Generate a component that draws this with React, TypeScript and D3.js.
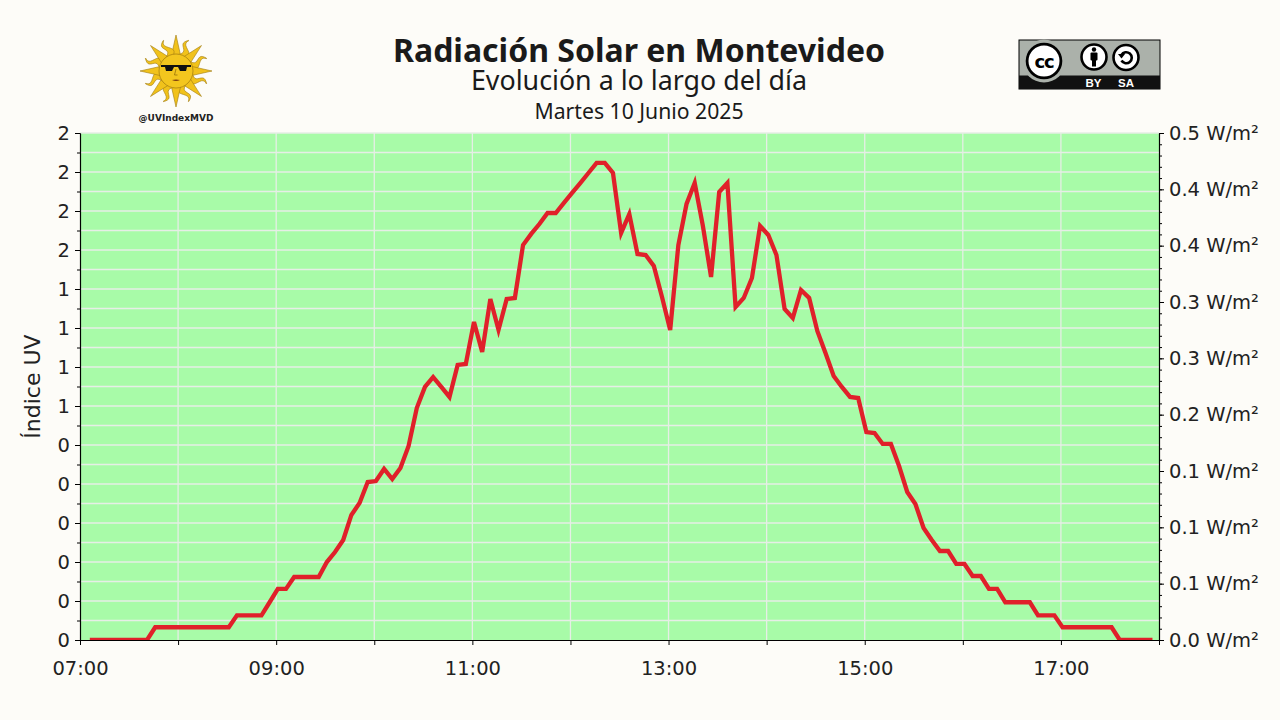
import React, { useEffect, useRef } from 'react';
import * as d3 from 'd3';

// 5 minute readings (W/m²), first one at 07:06
const firstReading = new Date(2025, 5, 10, 7, 6);
const stepMinutes = 5;
const radiation = [
  0, 0, 0, 0, 0, 0, 0, 0,
  0.0113, 0.0113, 0.0113, 0.0113, 0.0113, 0.0113, 0.0113, 0.0113, 0.0113, 0.0113,
  0.0219, 0.0219, 0.0219, 0.0219, 0.0335, 0.0453, 0.0453,
  0.0559, 0.0559, 0.0559, 0.0559, 0.0692, 0.0781, 0.0888, 0.111, 0.1216,
  0.1402, 0.1411, 0.1518, 0.1429, 0.1527, 0.1722, 0.2059, 0.2246, 0.2334,
  0.2246, 0.2157, 0.2441, 0.245, 0.2823, 0.2556, 0.3027, 0.2752, 0.3027,
  0.3036, 0.3506, 0.3604, 0.3692, 0.379, 0.379, 0.3879, 0.3968, 0.4056,
  0.4145, 0.4234, 0.4234, 0.4145, 0.3613, 0.3781, 0.3426, 0.3417, 0.332,
  0.3044, 0.2752, 0.3506, 0.387, 0.4056, 0.3675, 0.3222, 0.3976, 0.4056,
  0.2956, 0.3036, 0.3213, 0.3675, 0.3595, 0.3417, 0.2938, 0.2858, 0.3107,
  0.3036, 0.2743, 0.2547, 0.2343, 0.2246, 0.2157, 0.2148, 0.1846, 0.1837,
  0.174, 0.174, 0.1544, 0.1314, 0.1207, 0.0994, 0.0888, 0.079, 0.079,
  0.0675, 0.0675, 0.0568, 0.0568, 0.0453, 0.0453,
  0.0335, 0.0335, 0.0335, 0.0335, 0.0219, 0.0219, 0.0219,
  0.0113, 0.0113, 0.0113, 0.0113, 0.0113, 0.0113, 0.0113,
  0, 0, 0, 0, 0,
];

// left axis (UV index)
const uvTicks = d3.range(14).map((k) => k * 0.2);
const uvMinorTicks = d3.range(27).map((k) => k * 0.1);
const uvTickLabels = ['0', '0', '0', '0', '0', '0', '1', '1', '1', '1', '2', '2', '2', '2'];

// right axis (W/m²)
const wTicks = d3.range(10).map((k) => k * 0.05);
const wMinorTicks = d3.range(46).map((k) => k * 0.01);
const wTickLabels = ['0.0', '0.1', '0.1', '0.1', '0.2', '0.3', '0.3', '0.4', '0.4', '0.5'];

const titleText = 'Radiación Solar en Montevideo';
const subtitleText = 'Evolución a lo largo del día';
const dateText = 'Martes 10 Junio 2025';

const W = 1280, H = 720;
const plot = { left: 80, right: 1159, top: 133, bottom: 640 };
const tickFont = '"DejaVu Sans", sans-serif';

export default function App() {
  const ref = useRef<SVGSVGElement>(null);

  useEffect(() => {
    const svg = d3.select(ref.current);
    svg.selectAll('*').remove();

    svg.append('rect').attr('width', W).attr('height', H).attr('fill', '#fdfcf8');

    const x = d3.scaleTime()
      .domain([new Date(2025, 5, 10, 7), new Date(2025, 5, 10, 18)])
      .range([plot.left, plot.right]);
    const yL = d3.scaleLinear().domain([0, 2.6]).range([plot.bottom, plot.top]);
    const yR = d3.scaleLinear().domain([0, 0.45]).range([plot.bottom, plot.top]);

    const data = radiation.map((v, i) => ({
      t: d3.timeMinute.offset(firstReading, i * stepMinutes),
      v,
    }));

    // plot background
    svg.append('rect')
      .attr('x', plot.left).attr('y', plot.top)
      .attr('width', plot.right - plot.left).attr('height', plot.bottom - plot.top)
      .attr('fill', '#a8fba8');

    // grid
    const grid = svg.append('g').attr('stroke', '#e6eee6').attr('stroke-width', 1.3);
    grid.selectAll('.hgrid').data(uvMinorTicks.slice(1)).enter().append('line')
      .attr('x1', plot.left).attr('x2', plot.right)
      .attr('y1', (d) => yL(d)).attr('y2', (d) => yL(d));
    grid.selectAll('.vgrid').data(d3.timeHour.range(new Date(2025, 5, 10, 8), new Date(2025, 5, 10, 18))).enter().append('line')
      .attr('y1', plot.top).attr('y2', plot.bottom)
      .attr('x1', (d) => x(d)).attr('x2', (d) => x(d));

    // line
    svg.append('clipPath').attr('id', 'plotclip').append('rect')
      .attr('x', plot.left).attr('y', plot.top)
      .attr('width', plot.right - plot.left).attr('height', plot.bottom - plot.top);
    const line = d3.line<any>().x((d) => x(d.t)).y((d) => yR(d.v));
    svg.append('path')
      .datum(data)
      .attr('clip-path', 'url(#plotclip)')
      .attr('d', line)
      .attr('fill', 'none')
      .attr('stroke', '#e0202a')
      .attr('stroke-width', 4.3);

    const styleAxis = (g: any) => {
      g.selectAll('text').attr('font-family', tickFont).attr('font-size', 19.5).attr('fill', '#222');
      g.selectAll('line,path').attr('stroke', '#000');
    };

    // left axis
    svg.append('g').attr('transform', `translate(${plot.left},0)`)
      .call(d3.axisLeft(yL).tickValues(uvMinorTicks).tickSize(3).tickFormat(() => '').tickSizeOuter(0))
      .call(styleAxis);
    svg.append('g').attr('transform', `translate(${plot.left},0)`)
      .call(d3.axisLeft(yL).tickValues(uvTicks).tickSize(5).tickPadding(5).tickSizeOuter(0)
        .tickFormat((d, i) => uvTickLabels[i]))
      .call(styleAxis)
      .call((g) => g.select('.domain').attr('stroke-width', 1.2));

    // right axis
    svg.append('g').attr('transform', `translate(${plot.right},0)`)
      .call(d3.axisRight(yR).tickValues(wMinorTicks).tickSize(3).tickFormat(() => '').tickSizeOuter(0))
      .call(styleAxis);
    svg.append('g').attr('transform', `translate(${plot.right},0)`)
      .call(d3.axisRight(yR).tickValues(wTicks).tickSize(5).tickPadding(5).tickSizeOuter(0)
        .tickFormat((d, i) => `${wTickLabels[i]} W/m²`))
      .call(styleAxis)
      .call((g) => g.select('.domain').attr('stroke-width', 1.2));

    // bottom axis
    svg.append('g').attr('transform', `translate(0,${plot.bottom})`)
      .call(d3.axisBottom(x).ticks(d3.timeHour.every(1)).tickSize(5).tickPadding(16).tickSizeOuter(0)
        .tickFormat((d: any) => (d.getHours() % 2 === 1 ? d3.timeFormat('%H:%M')(d) : '')))
      .call(styleAxis)
      .call((g) => g.select('.domain').attr('stroke-width', 1.2));

    // y label
    svg.append('text')
      .attr('transform', `translate(40,${(plot.top + plot.bottom) / 2}) rotate(-90)`)
      .attr('text-anchor', 'middle')
      .attr('font-family', tickFont).attr('font-size', 22).attr('fill', '#222')
      .text('Índice UV');

    // titles
    svg.append('text').attr('x', 639).attr('y', 62).attr('text-anchor', 'middle')
      .attr('font-family', '"Noto Sans", sans-serif').attr('font-weight', 'bold')
      .attr('font-size', 32).attr('fill', '#1a1a1a').text(titleText);
    svg.append('text').attr('x', 639).attr('y', 90).attr('text-anchor', 'middle')
      .attr('font-family', '"Noto Sans", sans-serif')
      .attr('font-size', 26.8).attr('fill', '#1a1a1a').text(subtitleText);
    svg.append('text').attr('x', 639).attr('y', 119).attr('text-anchor', 'middle')
      .attr('font-family', '"Noto Sans", sans-serif')
      .attr('font-size', 21.2).attr('fill', '#1a1a1a').text(dateText);

    // sun logo
    const sun = svg.append('g').attr('transform', 'translate(176,71)');
    for (let k = 0; k < 16; k++) {
      const a = (k * Math.PI) / 8 - Math.PI / 2;
      const ux = Math.cos(a), uy = Math.sin(a);
      const px = -uy, py = ux;
      let pts: [number, number][] = [];
      if (k % 2 === 0) {
        pts = [
          [16 * ux + 4.5 * px, 16 * uy + 4.5 * py],
          [36 * ux, 36 * uy],
          [16 * ux - 4.5 * px, 16 * uy - 4.5 * py],
        ];
      } else {
        const left: [number, number][] = [];
        const right: [number, number][] = [];
        for (let s = 0; s <= 12; s++) {
          const r = 16 + (s / 12) * 17;
          const w = 3.8 * (1 - s / 12) + 0.3;
          const o = 2.6 * Math.sin((s / 12) * Math.PI * 2);
          left.push([r * ux + (o + w) * px, r * uy + (o + w) * py]);
          right.push([r * ux + (o - w) * px, r * uy + (o - w) * py]);
        }
        pts = left.concat(right.reverse());
      }
      sun.append('path')
        .attr('d', d3.line()(pts) + 'Z')
        .attr('fill', '#f1c21b').attr('stroke', '#a07a10').attr('stroke-width', 0.6);
    }
    sun.append('circle').attr('r', 17).attr('fill', '#f3c61e').attr('stroke', '#a07a10').attr('stroke-width', 0.7);
    sun.append('path')
      .attr('d', 'M-15,-6 L15,-6 L15,-4 L11,-4 L10,0 L4,0 L2,-4 L-2,-4 L-4,0 L-10,0 L-11,-4 L-15,-4 Z')
      .attr('fill', '#111');
    sun.append('path').attr('d', 'M0,-2 L-1.5,4 L1.5,4').attr('fill', 'none').attr('stroke', '#8a6508').attr('stroke-width', 0.7);
    sun.append('path').attr('d', 'M-4,9 Q0,11 4,9 Q0,8 -4,9 Z').attr('fill', '#7a3b10');
    svg.append('text').attr('x', 176).attr('y', 121).attr('text-anchor', 'middle')
      .attr('font-family', tickFont).attr('font-weight', 'bold')
      .attr('font-size', 9).attr('fill', '#222').text('@UVIndexMVD');

    // CC BY-SA badge
    const cc = svg.append('g');
    cc.append('rect').attr('x', 1019).attr('y', 40).attr('width', 141).attr('height', 49)
      .attr('fill', '#abb1aa').attr('stroke', '#000').attr('stroke-width', 1);
    cc.append('rect').attr('x', 1019).attr('y', 75.5).attr('width', 141).attr('height', 13.5).attr('fill', '#111');
    cc.append('circle').attr('cx', 1044).attr('cy', 61).attr('r', 21.5).attr('fill', '#abb1aa');
    cc.append('circle').attr('cx', 1044).attr('cy', 61).attr('r', 18.3).attr('fill', '#000');
    cc.append('circle').attr('cx', 1044).attr('cy', 61).attr('r', 15.5).attr('fill', '#fff');
    cc.append('text').attr('x', 1044).attr('y', 67.5).attr('text-anchor', 'middle')
      .attr('font-family', '"DejaVu Sans", sans-serif').attr('font-weight', 'bold')
      .attr('font-size', 18).attr('letter-spacing', -1.2).attr('fill', '#000').text('cc');
    // BY
    cc.append('circle').attr('cx', 1094).attr('cy', 57).attr('r', 12.5).attr('fill', '#fff')
      .attr('stroke', '#000').attr('stroke-width', 2.6);
    cc.append('circle').attr('cx', 1094).attr('cy', 49.5).attr('r', 2.2).attr('fill', '#000');
    cc.append('rect').attr('x', 1090.5).attr('y', 52.5).attr('width', 7).attr('height', 8).attr('rx', 1).attr('fill', '#000');
    cc.append('rect').attr('x', 1092).attr('y', 59).attr('width', 4).attr('height', 7.5).attr('fill', '#000');
    // SA
    cc.append('circle').attr('cx', 1126).attr('cy', 57.5).attr('r', 12.5).attr('fill', '#fff')
      .attr('stroke', '#000').attr('stroke-width', 2.6);
    cc.append('path').attr('d', 'M1121.5,55 A5.5,5.5 0 1 1 1121.5,60.5')
      .attr('fill', 'none').attr('stroke', '#000').attr('stroke-width', 2.6);
    cc.append('path').attr('d', 'M1118,54 L1125,54 L1121.5,58.5 Z').attr('fill', '#000');
    cc.append('text').attr('x', 1093.5).attr('y', 86.5).attr('text-anchor', 'middle')
      .attr('font-family', '"Liberation Sans", sans-serif').attr('font-weight', 'bold')
      .attr('font-size', 11.5).attr('fill', '#fff').text('BY');
    cc.append('text').attr('x', 1126).attr('y', 86.5).attr('text-anchor', 'middle')
      .attr('font-family', '"Liberation Sans", sans-serif').attr('font-weight', 'bold')
      .attr('font-size', 11.5).attr('fill', '#fff').text('SA');
  }, []);

  return (
    <svg
      ref={ref}
      width={W}
      height={H}
      style={{ position: 'absolute', left: 0, top: 0 }}
    />
  );
}
